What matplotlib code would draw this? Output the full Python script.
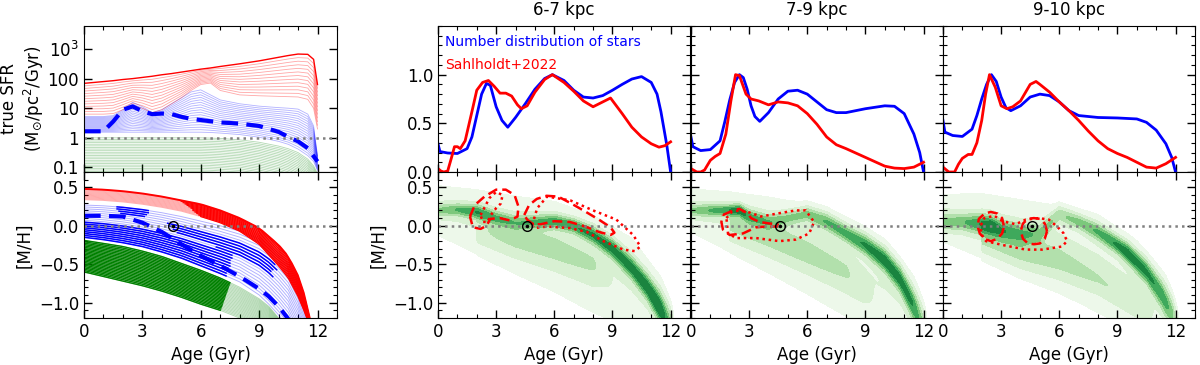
import numpy as np
import matplotlib
matplotlib.use("Agg")
import matplotlib.pyplot as plt
from matplotlib.ticker import MultipleLocator, FixedLocator, LogLocator, NullFormatter

plt.rcParams['font.family'] = ['DejaVu Sans']
plt.rcParams['font.size'] = 12
plt.rcParams['mathtext.default'] = 'regular'

# ---------------- top-left: true SFR families (log10 SFR)
sfr_age = [0, 1, 1.5, 2, 2.5, 3, 3.5, 4, 4.5, 5, 5.5, 6, 6.5, 7, 8, 9, 10, 10.5, 11, 11.5, 11.8, 12.0]
sfr_red_top = [1.84, 1.9, 1.93, 1.97, 2.0, 2.04, 2.08, 2.13, 2.17, 2.22, 2.27, 2.32, 2.36, 2.41, 2.5, 2.6, 2.72, 2.78, 2.83, 2.82, 2.65, 1.8]
sfr_red_bot = [0.8, 0.8, 0.82, 0.95, 1.1, 1.0, 0.85, 0.95, 1.15, 1.35, 1.6, 1.8, 1.85, 1.6, 1.45, 1.42, 1.4, 1.39, 1.38, 1.3, 1.0, 0.3]
sfr_blue_top = [0.72, 0.72, 0.75, 0.95, 1.2, 1.05, 0.85, 0.95, 1.15, 1.35, 1.55, 1.62, 1.45, 1.28, 1.15, 1.07, 1.02, 1.0, 0.97, 0.8, 0.4, -0.6]
sfr_blue_bot = [0.19, 0.19, 0.19, 0.19, 0.19, 0.19, 0.19, 0.19, 0.19, 0.19, 0.19, 0.19, 0.18, 0.16, 0.11, 0.02, -0.12, -0.22, -0.38, -0.6, -0.8, -1.1]
sfr_green_top = [0.0, 0.0, 0.0, 0.0, 0.0, 0.0, 0.0, 0.0, 0.0, 0.0, 0.0, 0.0, -0.01, -0.02, -0.07, -0.15, -0.28, -0.37, -0.5, -0.72, -0.95, -1.2]
sfr_green_bot = [-1.25, -1.25, -1.25, -1.25, -1.25, -1.25, -1.25, -1.25, -1.25, -1.25, -1.25, -1.25, -1.26, -1.28, -1.32, -1.42, -1.55, -1.65, -1.8, -2.0, -2.2, -2.4]
sfr_dash = [0.22, 0.22, 0.55, 0.95, 1.06, 0.9, 0.8, 0.82, 0.8, 0.71, 0.64, 0.6, 0.56, 0.52, 0.48, 0.4, 0.2, 0.03, -0.12, -0.35, -0.62, -0.8]
n_red, n_blue, n_green = 13, 18, 24

# ---------------- bottom-left: age-metallicity relations
amr_age = [0, 1, 2, 3, 4, 5, 6, 7, 8, 9, 9.5, 10, 10.5, 11, 11.3, 11.6, 11.9]
mh_red_top = [0.48, 0.47, 0.45, 0.42, 0.38, 0.33, 0.28, 0.2, 0.1, -0.03, -0.14, -0.25, -0.4, -0.65, -0.88, -1.2, -1.6]
mh_red_bot = [0.34, 0.33, 0.31, 0.28, 0.24, 0.19, 0.12, 0.04, -0.07, -0.24, -0.38, -0.52, -0.68, -0.92, -1.1, -1.3, -1.6]
mh_blue_top = [0.27, 0.26, 0.24, 0.21, 0.17, 0.12, 0.06, 0.0, -0.07, -0.17, -0.25, -0.36, -0.5, -0.75, -0.98, -1.25, -1.6]
mh_blue_bot = [-0.15, -0.18, -0.22, -0.27, -0.34, -0.42, -0.52, -0.62, -0.73, -0.9, -1.02, -1.16, -1.32, -1.6, -1.8, -2.0, -2.2]
mh_green_top = [-0.19, -0.23, -0.27, -0.33, -0.4, -0.49, -0.58, -0.68, -0.8, -0.95, -1.05, -1.2, -1.35, -1.5, -1.6, -1.7, -1.8]
mh_green_bot = [-0.6, -0.66, -0.72, -0.78, -0.85, -0.93, -1.02, -1.1, -1.2, -1.32, -1.4, -1.5, -1.6, -1.7, -1.8, -1.9, -2.0]
dash_age = [0, 1, 2, 3, 4, 5, 6, 7, 8, 9, 9.5, 10, 10.4, 10.6]
mh_dash = [0.13, 0.13, 0.12, 0.04, -0.08, -0.24, -0.39, -0.52, -0.66, -0.82, -0.92, -1.05, -1.18, -1.25]
red_thick_from = [0, 5.0, 5.1, 5.2, 5.3, 5.4, 5.5, 5.6, 5.6, 5.7, 5.8, 5.9, 6.0]
blue_thick_from = [1.7, 1.7, 1.8, 1.9, 4.3, 4.4, 4.6, 4.8, 6.8, 0, 0, 0, 0, 0, 0, 0, 0, 0]
blue_thick_to = [3.3, 3.3, 3.2, 3.1, 9.8, 9.9, 9.7, 9.6, 9.7, 7.6, 7.6, 7.5, 7.5, 7.5, 7.4, 7.4, 7.3, 7.3]
green_thick_to = [7.5, 7.48, 7.46, 7.43, 7.41, 7.39, 7.37, 7.35, 7.33, 7.3, 7.28, 7.26, 7.24, 7.22, 7.2, 7.17, 7.15, 7.13, 7.11, 7.09, 7.07, 7.04, 7.02, 7.0]

# ---------------- top row: age distributions
ages_n = [
    [0, 0.1, 0.5, 1.0, 1.5, 1.75, 2.0, 2.25, 2.5, 2.7, 3.0, 3.3, 3.6, 4.0, 4.5, 5.0, 5.5, 5.9, 6.5, 7.0, 7.5, 8.0, 8.5, 9.0, 9.5, 10.0, 10.5, 11.0, 11.3, 11.5, 11.8, 12.0],
    [0, 0.1, 0.5, 1.0, 1.5, 1.75, 2.0, 2.25, 2.5, 2.7, 2.9, 3.1, 3.3, 3.55, 4.0, 4.5, 5.0, 5.5, 6.0, 6.5, 7.0, 7.5, 8.0, 9.0, 10.0, 10.5, 11.0, 11.5, 11.8, 12.0],
    [0, 0.1, 0.5, 1.0, 1.5, 1.75, 2.0, 2.25, 2.5, 2.75, 3.0, 3.25, 3.5, 4.0, 4.5, 5.0, 5.5, 6.0, 6.5, 7.0, 8.0, 9.0, 10.0, 10.5, 11.0, 11.5, 11.8, 12.0],
]
number_dist = [
    [0.29, 0.21, 0.195, 0.19, 0.24, 0.36, 0.58, 0.80, 0.91, 0.89, 0.67, 0.53, 0.46, 0.56, 0.70, 0.85, 0.96, 1.0, 0.94, 0.84, 0.77, 0.76, 0.785, 0.84, 0.90, 0.955, 0.98, 0.92, 0.80, 0.62, 0.28, 0.0],
    [0.36, 0.26, 0.22, 0.23, 0.32, 0.52, 0.74, 0.92, 1.0, 0.97, 0.85, 0.68, 0.57, 0.52, 0.61, 0.75, 0.83, 0.84, 0.80, 0.72, 0.64, 0.61, 0.61, 0.65, 0.68, 0.675, 0.60, 0.39, 0.2, 0.0],
    [0.53, 0.41, 0.375, 0.365, 0.44, 0.58, 0.75, 0.90, 1.0, 0.93, 0.77, 0.66, 0.63, 0.68, 0.77, 0.80, 0.785, 0.72, 0.63, 0.58, 0.56, 0.555, 0.545, 0.51, 0.43, 0.29, 0.15, 0.0],
]
ages_s = [
    [0, 0.15, 0.3, 0.5, 0.7, 0.85, 1.0, 1.15, 1.4, 1.75, 2.0, 2.3, 2.6, 2.9, 3.2, 3.5, 3.8, 4.1, 4.3, 4.6, 5.0, 5.5, 5.9, 6.5, 7.0, 7.5, 8.0, 8.4, 8.9, 9.5, 10.0, 10.5, 11.0, 11.4, 11.7, 12.0],
    [0, 0.3, 0.5, 0.7, 1.0, 1.25, 1.5, 1.8, 2.06, 2.3, 2.5, 2.84, 3.1, 3.5, 4.0, 4.5, 5.0, 5.5, 6.0, 6.5, 7.0, 7.5, 8.0, 9.0, 10.0, 10.5, 11.0, 11.5, 12.0],
    [0, 0.3, 0.6, 0.8, 1.0, 1.3, 1.5, 1.75, 2.0, 2.2, 2.4, 2.7, 3.0, 3.3, 3.6, 4.0, 4.5, 4.8, 5.0, 5.5, 6.0, 6.5, 7.0, 7.5, 8.0, 8.5, 9.0, 9.5, 10.0, 10.5, 11.0, 11.5, 12.0],
]
sahlholdt = [
    [0.035, 0.01, 0.0, 0.01, 0.15, 0.26, 0.26, 0.24, 0.32, 0.62, 0.84, 0.92, 0.94, 0.88, 0.81, 0.81, 0.78, 0.69, 0.65, 0.68, 0.82, 0.95, 1.0, 0.92, 0.83, 0.73, 0.67, 0.71, 0.76, 0.60, 0.46, 0.36, 0.29, 0.255, 0.27, 0.31],
    [0.035, 0.0, 0.0, 0.02, 0.12, 0.16, 0.19, 0.39, 0.73, 1.0, 0.99, 0.8, 0.75, 0.73, 0.69, 0.72, 0.71, 0.68, 0.60, 0.49, 0.36, 0.28, 0.24, 0.15, 0.06, 0.04, 0.035, 0.05, 0.10],
    [0.05, 0.0, 0.0, 0.08, 0.14, 0.18, 0.18, 0.3, 0.53, 0.8, 1.0, 0.87, 0.68, 0.65, 0.67, 0.73, 0.90, 0.93, 0.90, 0.82, 0.72, 0.63, 0.53, 0.42, 0.32, 0.24, 0.19, 0.15, 0.10, 0.05, 0.04, 0.085, 0.15],
]
titles = ["6-7 kpc", "7-9 kpc", "9-10 kpc"]

# ---------------- bottom row: density ridges (age knots, centre [M/H], width, weight)
density = [
    [  # 6-7 kpc
        ([-0.5, 0, 2, 4, 6, 8, 10, 11.5, 12.3], [0.2, 0.2, 0.05, -0.12, -0.27, -0.5, -0.75, -1.05, -1.3],
         [0.23, 0.23, 0.3, 0.36, 0.42, 0.45, 0.42, 0.27, 0.2], [0.12, 0.12, 0.12, 0.12, 0.12, 0.12, 0.12, 0.12, 0.0]),
        ([0, 1, 2, 3, 4, 5, 6, 7, 8, 9, 10, 10.8, 11.4, 11.9, 12.2], [0.2, 0.21, 0.18, 0.1, 0.04, 0.05, 0.06, 0.0, -0.12, -0.3, -0.55, -0.8, -1.05, -1.3, -1.4],
         [0.05, 0.05, 0.06, 0.06, 0.06, 0.06, 0.06, 0.06, 0.07, 0.08, 0.09, 0.1, 0.12, 0.15, 0.15],
         [0.3, 0.45, 0.6, 0.45, 0.35, 0.45, 0.55, 0.6, 0.65, 0.7, 0.7, 0.75, 0.8, 0.5, 0.0]),
        ([2, 4, 6, 8, 9], [-0.05, -0.15, -0.3, -0.5, -0.65], [0.12, 0.15, 0.15, 0.15, 0.1], [0.1, 0.2, 0.2, 0.15, 0.0]),
    ],
    [  # 7-9 kpc
        ([-0.5, 0, 2, 4, 6, 8, 10, 11.5, 12.3], [0.2, 0.2, 0.05, -0.12, -0.3, -0.55, -0.8, -1.05, -1.3],
         [0.2, 0.2, 0.28, 0.35, 0.42, 0.45, 0.42, 0.27, 0.2], [0.12, 0.12, 0.12, 0.12, 0.12, 0.12, 0.12, 0.12, 0.0]),
        ([0, 1, 2, 2.5, 3, 4, 5, 6, 7, 8, 9, 10, 10.8, 11.4, 11.9, 12.2], [0.2, 0.2, 0.2, 0.2, 0.12, 0.05, 0.1, 0.15, 0.05, -0.1, -0.25, -0.45, -0.7, -1.0, -1.3, -1.4],
         [0.05, 0.05, 0.05, 0.05, 0.06, 0.06, 0.06, 0.06, 0.07, 0.07, 0.08, 0.09, 0.1, 0.12, 0.15, 0.15],
         [0.3, 0.45, 0.6, 0.7, 0.45, 0.35, 0.35, 0.4, 0.5, 0.55, 0.65, 0.75, 0.7, 0.6, 0.4, 0.0]),
        ([2, 4, 6, 8, 9.5], [0.0, -0.12, -0.35, -0.6, -1.0], [0.12, 0.15, 0.15, 0.15, 0.12], [0.15, 0.22, 0.2, 0.15, 0.0]),
    ],
    [  # 9-10 kpc
        ([-0.5, 0, 2, 4, 6, 8, 10, 11.5, 12.3], [0.1, 0.1, 0.0, -0.15, -0.3, -0.5, -0.8, -1.05, -1.3],
         [0.22, 0.22, 0.3, 0.35, 0.4, 0.45, 0.42, 0.27, 0.2], [0.12, 0.12, 0.12, 0.12, 0.12, 0.12, 0.12, 0.12, 0.0]),
        ([0, 1, 2, 2.5, 3, 4, 5, 6, 7, 8, 9, 9.5, 10.5, 11.3, 11.8, 12.2], [0.05, 0.05, 0.02, 0.0, -0.05, -0.1, -0.1, 0.15, 0.05, -0.08, -0.25, -0.35, -0.6, -0.9, -1.15, -1.4],
         [0.07, 0.07, 0.08, 0.08, 0.08, 0.08, 0.08, 0.06, 0.06, 0.07, 0.07, 0.08, 0.09, 0.11, 0.13, 0.15],
         [0.3, 0.4, 0.6, 0.75, 0.5, 0.4, 0.35, 0.3, 0.4, 0.5, 0.65, 0.75, 0.65, 0.55, 0.4, 0.0]),
        ([2, 4, 6, 8, 10, 11], [-0.15, -0.3, -0.45, -0.7, -1.05, -1.2], [0.12, 0.15, 0.15, 0.12, 0.1, 0.1], [0.2, 0.25, 0.2, 0.15, 0.12, 0.0]),
    ],
]

# red contours (Sahlholdt+2022), closed outlines
dashed_loops = [
    [([1.65, 1.9, 2.4, 3.0, 3.5, 3.95, 4.15, 4.1, 3.7, 3.2, 2.7, 2.5, 2.2, 1.8, 1.65],
      [0.12, 0.27, 0.38, 0.47, 0.47, 0.40, 0.25, 0.12, 0.07, 0.10, 0.09, 0.0, -0.04, -0.02, 0.12]),
     ([4.45, 4.7, 5.1, 5.6, 6.2, 6.8, 7.5, 8.3, 8.9, 9.1, 8.9, 8.3, 7.6, 6.8, 6.0, 5.3, 4.9, 4.6, 4.45],
      [0.14, 0.27, 0.35, 0.39, 0.38, 0.30, 0.20, 0.08, -0.02, -0.09, -0.12, -0.08, -0.01, 0.05, 0.06, 0.02, 0.02, 0.08, 0.14])],
    [([1.65, 2.17, 2.5, 2.93, 3.1, 3.53, 4.04, 4.47, 4.47, 3.87, 3.36, 2.68, 2.0, 1.65, 1.57, 1.65],
      [0.14, 0.2, 0.22, 0.16, 0.1, 0.05, 0.03, 0.02, -0.01, -0.01, -0.02, -0.1, -0.12, -0.05, 0.05, 0.14])],
    [([3.15, 3.05, 2.8, 2.47, 2.15, 1.85, 1.79, 1.9, 2.15, 2.47, 2.8, 3.05, 3.15],
      [-0.01, 0.1, 0.16, 0.18, 0.16, 0.09, -0.01, -0.1, -0.17, -0.2, -0.17, -0.1, -0.01]),
     ([5.37, 5.25, 5.0, 4.69, 4.38, 4.13, 4.01, 4.13, 4.38, 4.69, 5.0, 5.25, 5.37],
      [-0.07, 0.03, 0.09, 0.1, 0.09, 0.03, -0.07, -0.17, -0.23, -0.24, -0.23, -0.17, -0.07])],
]
dotted_loops = [
    [([2.2, 2.65, 3.0, 3.33, 3.24, 3.0, 2.73, 2.56, 2.3, 2.2],
      [0.14, 0.36, 0.44, 0.40, 0.29, 0.23, 0.14, 0.05, 0.05, 0.14]),
     ([4.86, 5.12, 5.63, 6.83, 8.0, 9.2, 10.07, 10.44, 10.15, 9.56, 8.53, 7.68, 6.8, 5.63, 4.95, 4.86],
      [0.01, 0.23, 0.38, 0.33, 0.2, 0.08, -0.12, -0.27, -0.33, -0.31, -0.2, -0.08, -0.03, -0.01, -0.03, 0.01])],
    [([1.83, 2.1, 2.5, 2.93, 3.62, 4.47, 5.4, 5.92, 6.35, 6.1, 5.4, 4.56, 3.36, 2.34, 1.91, 1.83],
      [0.1, 0.18, 0.2, 0.18, 0.12, 0.16, 0.2, 0.2, 0.05, -0.1, -0.18, -0.2, -0.16, -0.16, -0.1, 0.1])],
    [([1.96, 2.13, 2.65, 3.07, 3.75, 4.27, 4.95, 5.46, 5.89, 6.23, 6.4, 6.14, 5.12, 4.27, 3.07, 2.22, 1.96, 1.96],
      [0.01, 0.1, 0.13, 0.06, 0.02, 0.08, 0.1, 0.08, -0.01, -0.1, -0.2, -0.27, -0.31, -0.31, -0.25, -0.2, -0.1, 0.01])],
]
sun_age, sun_mh = 4.57, 0.0

green_levels = [0.045, 0.12, 0.25, 0.4, 0.55, 0.7, 10]
green_colors = [plt.cm.Greens(v) for v in [0.07, 0.18, 0.32, 0.48, 0.63, 0.78]]


def style(ax):
    ax.tick_params(which='both', direction='in', top=True, right=True, labelsize=12)
    ax.tick_params(which='major', length=6, width=1)
    ax.tick_params(which='minor', length=3, width=0.8)
    ax.set_xlim(0, 13)
    ax.xaxis.set_major_locator(MultipleLocator(3))
    ax.xaxis.set_minor_locator(MultipleLocator(1))


def blend(top, bot, n):
    top, bot = np.asarray(top), np.asarray(bot)
    return [top + (bot - top) * f for f in np.linspace(0, 1, n)]


fig = plt.figure(figsize=(12, 3.65), dpi=100)

# ---- left column
ax_sfr = fig.add_axes([0.07, 0.5288, 0.2108, 0.4])
ax_amr = fig.add_axes([0.07, 0.1288, 0.2108, 0.4])

for c in blend(sfr_green_top, sfr_green_bot, n_green):
    ax_sfr.plot(sfr_age, 10 ** c, color='green', lw=0.6, alpha=0.3)
for c in blend(sfr_blue_top, sfr_blue_bot, n_blue):
    ax_sfr.plot(sfr_age, 10 ** c, color='blue', lw=0.6, alpha=0.3)
for i, c in enumerate(blend(sfr_red_top, sfr_red_bot, n_red)):
    ax_sfr.plot(sfr_age, 10 ** c, color='red', lw=1.0 if i == 0 else 0.6, alpha=1 if i == 0 else 0.35)
ax_sfr.plot(sfr_age, 10 ** np.asarray(sfr_dash), color='blue', lw=3, ls=(0, (4, 2)))
ax_sfr.axhline(1, color='gray', ls=':', lw=1.8)
ax_sfr.set_yscale('log')
ax_sfr.set_ylim(0.07, 6000)
style(ax_sfr)
ax_sfr.yaxis.set_major_locator(FixedLocator([0.1, 1, 10, 100, 1000]))
ax_sfr.set_yticklabels(['0.1', '1', '10', '100', '$10^3$'])
ax_sfr.yaxis.set_minor_locator(LogLocator(subs=np.arange(2, 10)))
ax_sfr.yaxis.set_minor_formatter(NullFormatter())
ax_sfr.set_xticklabels([])
ax_sfr.set_ylabel('true SFR\n(M$_{\\odot}$/pc$^2$/Gyr)', fontsize=12, labelpad=1)

amr_x = np.asarray(amr_age)


def draw_amr(curve, color, t0, t1, lw=1.1):
    ax_amr.plot(amr_x, curve, color=color, lw=0.7, alpha=0.3)
    fine = np.linspace(t0, t1, 40)
    ax_amr.plot(fine, np.interp(fine, amr_x, curve), color=color, lw=lw)


for i, c in enumerate(blend(mh_green_top, mh_green_bot, n_green)):
    draw_amr(c, 'green', 0, green_thick_to[i], lw=1.0)
for i, c in enumerate(blend(mh_blue_top, mh_blue_bot, n_blue)):
    draw_amr(c, 'blue', blue_thick_from[i], blue_thick_to[i])
for i, c in enumerate(blend(mh_red_top, mh_red_bot, n_red)):
    draw_amr(c, 'red', red_thick_from[i], 11.9, lw=1.4 if i == 0 else 0.9)
ax_amr.plot(dash_age, mh_dash, color='blue', lw=3, ls=(0, (4, 2)))
ax_amr.axhline(0, color='gray', ls=':', lw=1.8)
ax_amr.plot(sun_age, sun_mh, 'o', mfc='none', mec='k', ms=7, mew=1)
ax_amr.plot(sun_age, sun_mh, 'o', color='k', ms=1.5)
ax_amr.set_ylim(-1.2, 0.7)
style(ax_amr)
ax_amr.yaxis.set_major_locator(FixedLocator([-1.0, -0.5, 0.0, 0.5]))
ax_amr.yaxis.set_minor_locator(MultipleLocator(0.1))
ax_amr.set_ylabel('[M/H]', fontsize=12)
ax_amr.set_xlabel('Age (Gyr)', fontsize=12)

# ---- three radial bins
ga = np.linspace(0, 13, 400)
gm = np.linspace(-1.3, 0.8, 300)
GA, GM = np.meshgrid(ga, gm)
lefts = [0.365, 0.5758, 0.7858]
for k in range(3):
    ax_t = fig.add_axes([lefts[k], 0.5288, 0.21, 0.4])
    ax_b = fig.add_axes([lefts[k], 0.1288, 0.21, 0.4])

    ax_t.plot(ages_n[k], number_dist[k], color='blue', lw=2)
    ax_t.plot(ages_s[k], sahlholdt[k], color='red', lw=2)
    ax_t.set_ylim(0, 1.5)
    style(ax_t)
    ax_t.yaxis.set_major_locator(FixedLocator([0.0, 0.5, 1.0]))
    ax_t.yaxis.set_minor_locator(MultipleLocator(0.1))
    ax_t.set_xticklabels([])
    ax_t.set_title(titles[k], fontsize=12, pad=8)

    Z = np.zeros_like(GA)
    for kn, cen, wid, wt in density[k]:
        c = np.interp(GA, kn, cen)
        s = np.interp(GA, kn, wid)
        w = np.interp(GA, kn, wt, left=0, right=0)
        Z += w * np.exp(-0.5 * ((GM - c) / s) ** 2)
    ax_b.contourf(GA, GM, Z, levels=green_levels, colors=green_colors)
    for xs, ys in dashed_loops[k]:
        ax_b.plot(xs, ys, color='red', lw=1.8, ls=(0, (4, 2)))
    for xs, ys in dotted_loops[k]:
        ax_b.plot(xs, ys, color='red', lw=1.8, ls=(0, (1, 1.5)))
    ax_b.axhline(0, color='gray', ls=':', lw=1.8)
    ax_b.plot(sun_age, sun_mh, 'o', mfc='none', mec='k', ms=7, mew=1)
    ax_b.plot(sun_age, sun_mh, 'o', color='k', ms=1.5)
    ax_b.set_ylim(-1.2, 0.7)
    style(ax_b)
    ax_b.yaxis.set_major_locator(FixedLocator([-1.0, -0.5, 0.0, 0.5]))
    ax_b.yaxis.set_minor_locator(MultipleLocator(0.1))
    ax_b.set_xlabel('Age (Gyr)', fontsize=12)
    if k == 0:
        ax_b.set_ylabel('[M/H]', fontsize=12)
        ax_t.text(0.028, 0.94, 'Number distribution of stars', color='blue', fontsize=10,
                  transform=ax_t.transAxes, va='top')
        ax_t.text(0.028, 0.78, 'Sahlholdt+2022', color='red', fontsize=10,
                  transform=ax_t.transAxes, va='top')
    else:
        ax_t.set_yticklabels([])
        ax_b.set_yticklabels([])

fig.savefig('out.png', dpi=100)
